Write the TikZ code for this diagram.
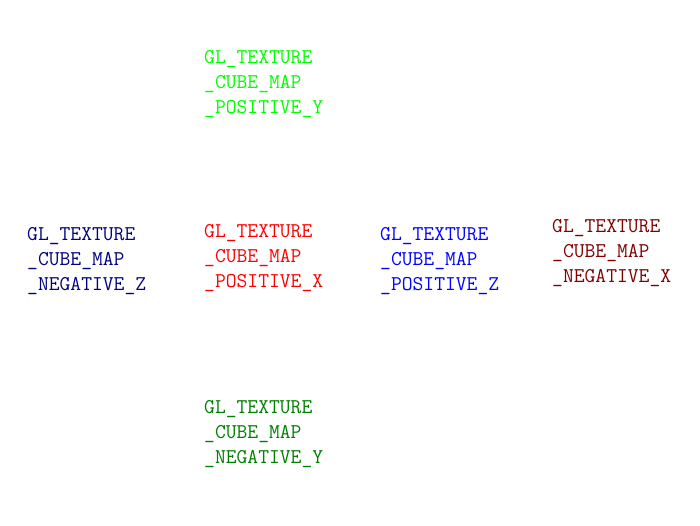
\documentclass[tikz,border=0pt]{standalone}
\usepackage{xcolor}
\definecolor{cLime}{RGB}{0,255,0}
\definecolor{cRed}{RGB}{255,0,0}
\definecolor{cBlue}{RGB}{0,0,255}
\definecolor{cMaroon}{RGB}{128,0,0}
\definecolor{cNavy}{RGB}{0,0,128}
\definecolor{cDGreen}{RGB}{0,128,0}
\begin{document}
\begin{tikzpicture}[x=1pt,y=-1pt,
  face/.style={anchor=north west,inner sep=0pt,align=left,
    font=\ttfamily\fontsize{21}{25}\selectfont}]
\useasboundingbox[fill=white] (0,0) rectangle (700,525);
\node[face,text=cLime]   (py) at (204,50.5)  {GL\_TEXTURE\\\_CUBE\_MAP\\\_POSITIVE\_Y};
\node[face,text=cNavy]   (nz) at (27,227.5)  {GL\_TEXTURE\\\_CUBE\_MAP\\\_NEGATIVE\_Z};
\node[face,text=cRed]    (px) at (204,224.5) {GL\_TEXTURE\\\_CUBE\_MAP\\\_POSITIVE\_X};
\node[face,text=cBlue]   (pz) at (380,227.5) {GL\_TEXTURE\\\_CUBE\_MAP\\\_POSITIVE\_Z};
\node[face,text=cMaroon] (nx) at (552,219)   {GL\_TEXTURE\\\_CUBE\_MAP\\\_NEGATIVE\_X};
\node[face,text=cDGreen] (ny) at (204,400.5) {GL\_TEXTURE\\\_CUBE\_MAP\\\_NEGATIVE\_Y};
\end{tikzpicture}
\end{document}
